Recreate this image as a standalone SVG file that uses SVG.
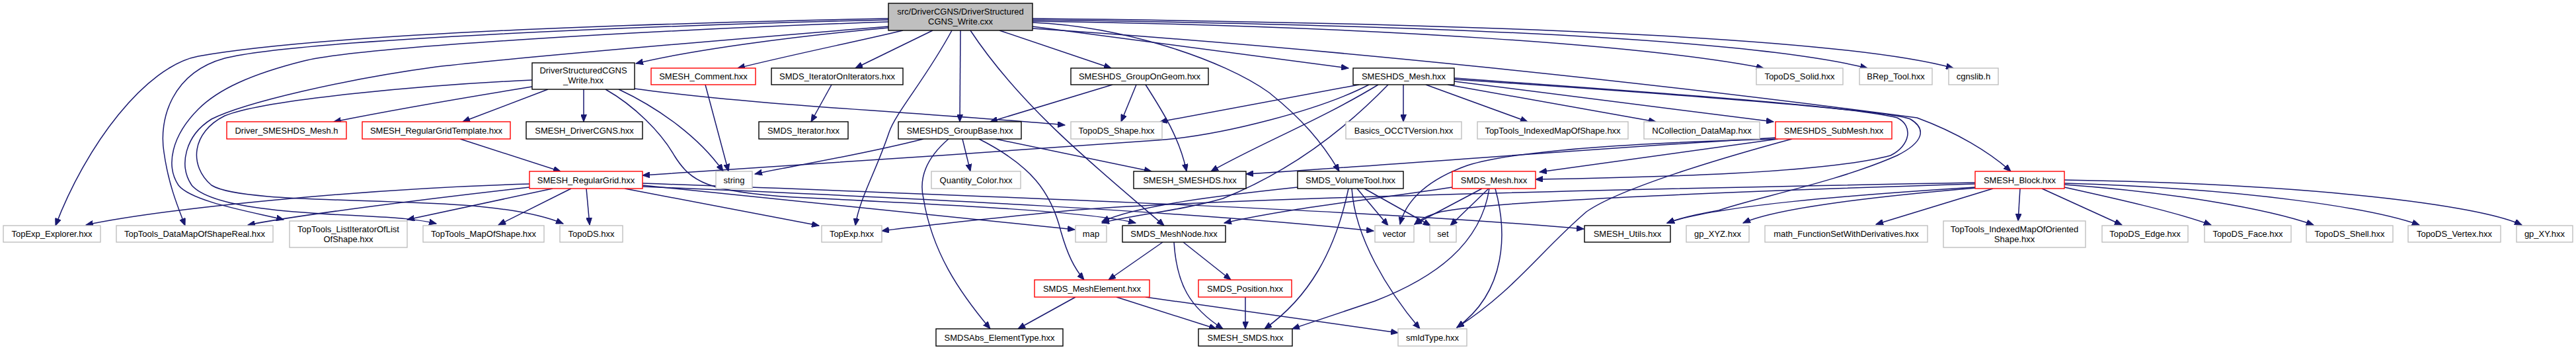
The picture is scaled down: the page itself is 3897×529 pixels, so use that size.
<svg xmlns="http://www.w3.org/2000/svg" width="3897" height="529" viewBox="0 0 3897 529">
<style>
.n rect{fill:#fff;stroke-width:1.4}
.b rect{stroke:#000}
.g rect{stroke:#bfbfbf}
.r rect{stroke:#ff0000}
text{font-family:"Liberation Sans",Arial,sans-serif;font-size:13px;fill:#000;text-anchor:middle}
#edges path{fill:none;stroke:#191970;stroke-width:1.5;marker-end:url(#a)}
</style>
<defs>
<marker id="a" markerWidth="12" markerHeight="9" refX="11" refY="4.5" orient="auto" markerUnits="userSpaceOnUse"><path d="M0,0 L11,4.5 L0,9 z" fill="#191970" stroke="#191970" stroke-width="1"/></marker>
</defs>
<rect width="3897" height="529" fill="#fff"/>
<g id="edges">
<path d="M1344,28 C1000,35 500,50 300,85 C220,100 130,220 84,341"/>
<path d="M1344,30 C1000,38 450,60 340,88 C260,110 240,180 248,230 C255,280 270,315 280,341"/>
<path d="M1344,33 C1000,45 550,70 460,92 C380,112 330,135 300,165 C260,205 250,250 270,280 C290,305 380,320 429,332"/>
<path d="M1344,40 C1100,60 800,85 660,101 C520,120 370,155 320,180 C280,205 270,250 290,280 C320,315 450,322 560,327 C600,329 630,331 660,338"/>
<path d="M1344,42 C1200,55 1050,75 962,96"/>
<path d="M1366,46 C1300,62 1200,82 1116,103"/>
<path d="M1411,46 L1294,103"/>
<path d="M1453,46 L1452,184"/>
<path d="M1440,46 C1400,120 1355,170 1345,200 C1325,260 1300,300 1294,341"/>
<path d="M1468,46 C1550,170 1680,270 1761,341"/>
<path d="M1512,46 L1681,103"/>
<path d="M1562,40 C1750,65 1900,85 2040,103"/>
<path d="M1562,34 C1700,40 1850,90 1920,140 C1970,180 2000,215 2026,259"/>
<path d="M1562,32 C2100,40 2500,70 2668,103"/>
<path d="M1562,30 C2200,38 2650,60 2825,103"/>
<path d="M1562,28 C2300,36 2800,60 2955,103"/>
<path d="M1562,43 C2000,72 2500,125 2900,178 C2960,200 3010,230 3042,259"/>
<path d="M805,131 C700,148 600,165 505,184"/>
<path d="M829,135 L700,184"/>
<path d="M883,135 L883,184"/>
<path d="M936,135 C1000,165 1060,210 1094,259"/>
<path d="M805,121 C650,128 400,150 340,175 C290,200 285,250 320,280 C360,305 550,300 700,310 C770,315 820,325 852,338"/>
<path d="M916,135 C960,160 1000,200 1020,235 C1045,275 1070,290 1200,298 C1450,310 1650,320 1718,337"/>
<path d="M960,134 C1150,160 1400,170 1611,189"/>
<path d="M1067,128 L1102,259"/>
<path d="M1258,128 L1227,184"/>
<path d="M696,210 L848,259"/>
<path d="M1683,128 L1498,184"/>
<path d="M1719,128 L1696,184"/>
<path d="M1733,128 C1760,170 1785,210 1795,259"/>
<path d="M1397,210 C1300,235 1200,250 1142,263"/>
<path d="M1456,210 L1468,259"/>
<path d="M1506,210 L1742,259"/>
<path d="M1435,210 C1400,240 1390,270 1397,300 C1410,380 1450,440 1498,497"/>
<path d="M1481,210 C1560,250 1590,290 1605,350 C1615,385 1625,405 1640,423"/>
<path d="M2056,128 L1755,184"/>
<path d="M2071,128 C2000,165 1850,205 1750,212 C1500,230 1200,250 972,265"/>
<path d="M2085,128 C2000,180 1900,220 1832,259"/>
<path d="M2100,128 C2030,200 1950,260 1850,300 C1780,320 1710,325 1667,337"/>
<path d="M2123,128 L2123,184"/>
<path d="M2157,128 L2311,184"/>
<path d="M2190,128 L2505,184"/>
<path d="M2200,123 L2683,184"/>
<path d="M2200,118 C2500,140 2800,160 2870,178 C2895,190 2890,220 2860,235 C2760,262 2500,268 2323,271"/>
<path d="M2200,120 C2500,140 2850,165 2890,180 C2915,195 2910,215 2870,235 C2780,275 2650,300 2600,318 C2560,325 2540,330 2522,337"/>
<path d="M2688,210 C2500,215 2300,225 2220,250 C2150,275 2125,310 2118,339"/>
<path d="M2688,208 C2400,225 2100,250 1885,263"/>
<path d="M2690,210 L2329,260"/>
<path d="M2711,210 C2600,240 2450,285 2400,320 C2330,380 2290,440 2204,495"/>
<path d="M2197,283 C2050,305 1950,315 1852,337"/>
<path d="M2242,285 L2140,339"/>
<path d="M2252,285 L2194,341"/>
<path d="M2253,285 C2240,370 2170,420 2080,455 C2020,475 1990,485 1955,497"/>
<path d="M2262,285 C2280,350 2280,440 2204,495"/>
<path d="M1963,283 C1850,295 1720,310 1667,335"/>
<path d="M2053,285 L2100,341"/>
<path d="M2064,285 L2164,341"/>
<path d="M2040,285 C2020,380 1980,450 1913,497"/>
<path d="M2045,285 C2050,360 2100,440 2148,497"/>
<path d="M2988,276 C2500,285 1800,300 1600,320 C1450,335 1380,343 1334,349"/>
<path d="M2988,278 C2600,290 2250,305 2180,320 C2160,326 2150,330 2140,339"/>
<path d="M2988,283 C2800,295 2600,310 2522,337"/>
<path d="M2990,284 C2800,300 2680,318 2637,337"/>
<path d="M3015,285 L2838,339"/>
<path d="M3056,285 L3053,334"/>
<path d="M3089,285 L3210,340"/>
<path d="M3123,283 C3200,300 3290,320 3345,340"/>
<path d="M3123,279 C3280,290 3430,315 3500,340"/>
<path d="M3123,277 C3400,285 3590,315 3660,340"/>
<path d="M3123,272 C3500,278 3750,310 3815,340"/>
<path d="M801,278 C550,285 250,315 130,340"/>
<path d="M801,283 C650,300 450,325 375,340"/>
<path d="M836,285 L616,332"/>
<path d="M864,285 L754,340"/>
<path d="M887,285 L892,340"/>
<path d="M945,285 L1239,341"/>
<path d="M972,280 L1626,347"/>
<path d="M972,282 C1400,300 1800,320 2078,349"/>
<path d="M972,277 C1600,300 2100,320 2396,346"/>
<path d="M1759,366 L1677,423"/>
<path d="M1790,366 L1862,423"/>
<path d="M1776,366 C1780,430 1800,465 1850,497"/>
<path d="M1627,449 L1540,497"/>
<path d="M1689,449 L1840,497"/>
<path d="M1733,449 L2115,503"/>
<path d="M1884,449 L1884,497"/>
</g>
<g id="src" class="n b"><rect x="1344" y="5" width="218" height="41" style="fill:#bfbfbf"/><text x="1453" y="21.5">src/DriverCGNS/DriverStructured</text><text x="1453" y="36.5">CGNS_Write.cxx</text></g>
<g id="DSW" class="n b"><rect x="805" y="95" width="155" height="40"/><text x="882.5" y="111">DriverStructuredCGNS</text><text x="882.5" y="126">_Write.hxx</text></g>
<g id="Comment" class="n r"><rect x="985" y="103" width="158" height="25"/><text x="1064" y="120">SMESH_Comment.hxx</text></g>
<g id="IterOnIter" class="n b"><rect x="1167" y="103" width="199" height="25"/><text x="1266.5" y="120">SMDS_IteratorOnIterators.hxx</text></g>
<g id="GroupOnGeom" class="n b"><rect x="1620" y="103" width="208" height="25"/><text x="1724" y="120">SMESHDS_GroupOnGeom.hxx</text></g>
<g id="SMESHDS_Mesh" class="n b"><rect x="2047" y="103" width="153" height="25"/><text x="2123.5" y="120">SMESHDS_Mesh.hxx</text></g>
<g id="TopoDS_Solid" class="n g"><rect x="2657" y="103" width="131" height="25"/><text x="2722.5" y="120">TopoDS_Solid.hxx</text></g>
<g id="BRep_Tool" class="n g"><rect x="2813" y="103" width="110" height="25"/><text x="2868" y="120">BRep_Tool.hxx</text></g>
<g id="cgnslib" class="n g"><rect x="2948" y="103" width="75" height="25"/><text x="2985.5" y="120">cgnslib.h</text></g>
<g id="Driver_SMESHDS_Mesh" class="n r"><rect x="343" y="184" width="181" height="26"/><text x="433.5" y="201.5">Driver_SMESHDS_Mesh.h</text></g>
<g id="RegularGridTemplate" class="n r"><rect x="548" y="184" width="224" height="26"/><text x="660" y="201.5">SMESH_RegularGridTemplate.hxx</text></g>
<g id="DriverCGNS" class="n b"><rect x="796" y="184" width="176" height="26"/><text x="884" y="201.5">SMESH_DriverCGNS.hxx</text></g>
<g id="SMDS_Iterator" class="n b"><rect x="1148" y="184" width="135" height="26"/><text x="1215.5" y="201.5">SMDS_Iterator.hxx</text></g>
<g id="GroupBase" class="n b"><rect x="1359" y="184" width="186" height="26"/><text x="1452" y="201.5">SMESHDS_GroupBase.hxx</text></g>
<g id="TopoDS_Shape" class="n g"><rect x="1620" y="184" width="138" height="26"/><text x="1689" y="201.5">TopoDS_Shape.hxx</text></g>
<g id="Basics" class="n g"><rect x="2036" y="184" width="175" height="26"/><text x="2123.5" y="201.5">Basics_OCCTVersion.hxx</text></g>
<g id="TT_IndexedMap" class="n g"><rect x="2235" y="184" width="228" height="26"/><text x="2349" y="201.5">TopTools_IndexedMapOfShape.hxx</text></g>
<g id="NCollection" class="n g"><rect x="2487" y="184" width="175" height="26"/><text x="2574.5" y="201.5">NCollection_DataMap.hxx</text></g>
<g id="SubMesh" class="n r"><rect x="2686" y="184" width="176" height="26"/><text x="2774" y="201.5">SMESHDS_SubMesh.hxx</text></g>
<g id="RegularGrid" class="n r"><rect x="801" y="259" width="171" height="26"/><text x="886.5" y="276.5">SMESH_RegularGrid.hxx</text></g>
<g id="string" class="n g"><rect x="1083" y="259" width="55" height="26"/><text x="1110.5" y="276.5">string</text></g>
<g id="Quantity_Color" class="n g"><rect x="1409" y="259" width="135" height="26"/><text x="1476.5" y="276.5">Quantity_Color.hxx</text></g>
<g id="SMESH_SMESHDS" class="n b"><rect x="1715" y="259" width="170" height="26"/><text x="1800" y="276.5">SMESH_SMESHDS.hxx</text></g>
<g id="VolumeTool" class="n b"><rect x="1963" y="259" width="160" height="26"/><text x="2043" y="276.5">SMDS_VolumeTool.hxx</text></g>
<g id="SMDS_Mesh" class="n r"><rect x="2197" y="259" width="126" height="26"/><text x="2260" y="276.5">SMDS_Mesh.hxx</text></g>
<g id="SMESH_Block" class="n r"><rect x="2988" y="259" width="135" height="26"/><text x="3055.5" y="276.5">SMESH_Block.hxx</text></g>
<g id="TopExp_Explorer" class="n g"><rect x="5" y="341" width="147" height="25"/><text x="78.5" y="358">TopExp_Explorer.hxx</text></g>
<g id="DataMapOfShapeReal" class="n g"><rect x="176" y="341" width="237" height="25"/><text x="294.5" y="358">TopTools_DataMapOfShapeReal.hxx</text></g>
<g id="ListIterator" class="n g"><rect x="438" y="334" width="178" height="40"/><text x="527" y="350.5">TopTools_ListIteratorOfList</text><text x="527" y="365.5">OfShape.hxx</text></g>
<g id="MapOfShape" class="n g"><rect x="640" y="341" width="183" height="25"/><text x="731.5" y="358">TopTools_MapOfShape.hxx</text></g>
<g id="TopoDS" class="n g"><rect x="847" y="341" width="95" height="25"/><text x="894.5" y="358">TopoDS.hxx</text></g>
<g id="TopExp" class="n g"><rect x="1243" y="341" width="91" height="25"/><text x="1288.5" y="358">TopExp.hxx</text></g>
<g id="map" class="n g"><rect x="1627" y="341" width="47" height="25"/><text x="1650.5" y="358">map</text></g>
<g id="MeshNode" class="n b"><rect x="1698" y="341" width="156" height="25"/><text x="1776" y="358">SMDS_MeshNode.hxx</text></g>
<g id="vector" class="n g"><rect x="2080" y="341" width="59" height="25"/><text x="2109.5" y="358">vector</text></g>
<g id="set" class="n g"><rect x="2163" y="341" width="40" height="25"/><text x="2183" y="358">set</text></g>
<g id="SMESH_Utils" class="n b"><rect x="2397" y="341" width="130" height="25"/><text x="2462" y="358">SMESH_Utils.hxx</text></g>
<g id="gp_XYZ" class="n g"><rect x="2551" y="341" width="95" height="25"/><text x="2598.5" y="358">gp_XYZ.hxx</text></g>
<g id="math" class="n g"><rect x="2670" y="341" width="246" height="25"/><text x="2793" y="358">math_FunctionSetWithDerivatives.hxx</text></g>
<g id="IdxMapOriented" class="n g"><rect x="2940" y="334" width="215" height="40"/><text x="3047.5" y="350.5">TopTools_IndexedMapOfOriented</text><text x="3047.5" y="365.5">Shape.hxx</text></g>
<g id="TopoDS_Edge" class="n g"><rect x="3180" y="341" width="130" height="25"/><text x="3245" y="358">TopoDS_Edge.hxx</text></g>
<g id="TopoDS_Face" class="n g"><rect x="3335" y="341" width="131" height="25"/><text x="3400.5" y="358">TopoDS_Face.hxx</text></g>
<g id="TopoDS_Shell" class="n g"><rect x="3489" y="341" width="131" height="25"/><text x="3554.5" y="358">TopoDS_Shell.hxx</text></g>
<g id="TopoDS_Vertex" class="n g"><rect x="3643" y="341" width="140" height="25"/><text x="3713" y="358">TopoDS_Vertex.hxx</text></g>
<g id="gp_XY" class="n g"><rect x="3807" y="341" width="85" height="25"/><text x="3849.5" y="358">gp_XY.hxx</text></g>
<g id="MeshElement" class="n r"><rect x="1565" y="423" width="174" height="26"/><text x="1652" y="440.5">SMDS_MeshElement.hxx</text></g>
<g id="Position" class="n r"><rect x="1813" y="423" width="141" height="26"/><text x="1883.5" y="440.5">SMDS_Position.hxx</text></g>
<g id="SMDSAbs" class="n b"><rect x="1416" y="497" width="192" height="26"/><text x="1512" y="514.5">SMDSAbs_ElementType.hxx</text></g>
<g id="SMESH_SMDS" class="n b"><rect x="1813" y="497" width="142" height="26"/><text x="1884" y="514.5">SMESH_SMDS.hxx</text></g>
<g id="smIdType" class="n g"><rect x="2115" y="497" width="104" height="26"/><text x="2167" y="514.5">smIdType.hxx</text></g>
</svg>
